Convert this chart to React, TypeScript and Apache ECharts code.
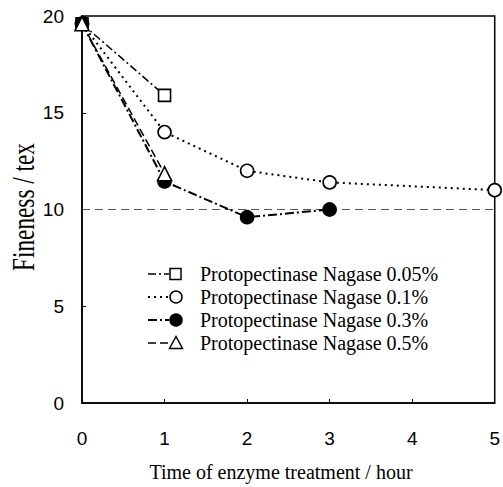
import React, { useEffect, useRef } from "react";
import * as echarts from "echarts";

const seriesNames = [
  "Protopectinase Nagase 0.05%",
  "Protopectinase Nagase 0.1%",
  "Protopectinase Nagase 0.3%",
  "Protopectinase Nagase 0.5%",
];
const s005: [number, number][] = [[0, 19.6], [1, 15.9]];
const s01: [number, number][] = [[0, 19.6], [1, 14.0], [2, 12.0], [3, 11.4], [5, 11.0]];
const s03: [number, number][] = [[0, 19.6], [1, 11.45], [2, 9.6], [3, 10.0]];
const s05: [number, number][] = [[0, 19.6], [1, 11.85]];
const refLevel = 10;
const xTitle = "Time of enzyme treatment / hour";
const yTitle = "Fineness / tex";

const symbols = ["rect", "circle", "circle", "triangle"];
const filled = [false, false, true, false];
const dashes: any[] = [[8, 3, 2, 3], [2, 4], [9, 3, 2, 3], [8, 4]];
const widths = [1.5, 2, 2, 1.5];

export default function App() {
  const ref = useRef<HTMLDivElement>(null);
  useEffect(() => {
    if (!ref.current) return;
    const chart = echarts.init(ref.current, null, { renderer: "svg" });
    const base = (i: number, data: [number, number][], z: number) => ({
      name: seriesNames[i],
      type: "line",
      data,
      symbol: symbols[i],
      symbolSize: symbols[i] === "triangle" ? 14 : symbols[i] === "rect" ? 12 : 13,
      z,
      itemStyle: { color: filled[i] ? "#000" : "#fff", borderColor: "#000", borderWidth: 1.6 },
      lineStyle: { color: "#000", width: widths[i], type: dashes[i] },
    });

    // legend drawn as graphic
    const legendEls: any[] = [];
    seriesNames.forEach((name, i) => {
      const cy = 274 + i * 23;
      legendEls.push({
        type: "line",
        shape: { x1: 148, y1: cy, x2: 169, y2: cy },
        style: { stroke: "#000", lineWidth: widths[i], lineDash: dashes[i] },
      });
      const sym = symbols[i];
      if (sym === "rect") {
        legendEls.push({ type: "rect", shape: { x: 170, y: cy - 5.5, width: 11, height: 11 }, style: { fill: "#fff", stroke: "#000", lineWidth: 1.5 } });
      } else if (sym === "circle") {
        legendEls.push({ type: "circle", shape: { cx: 176, cy, r: 6 }, style: { fill: filled[i] ? "#000" : "#fff", stroke: "#000", lineWidth: 1.5 } });
      } else {
        legendEls.push({ type: "polygon", shape: { points: [[176, cy - 6.5], [169.5, cy + 5.5], [182.5, cy + 5.5]] }, style: { fill: "#fff", stroke: "#000", lineWidth: 1.5 } });
      }
      legendEls.push({
        type: "text",
        x: 200,
        y: cy,
        style: { text: name, font: "20px 'Liberation Serif'", fill: "#000", textVerticalAlign: "middle", verticalAlign: "middle" },
      });
    });

    chart.setOption({
      animation: false,
      grid: { left: 82, right: 6, top: 16, bottom: 84, show: true, borderColor: "#000", borderWidth: 1.5 },
      xAxis: {
        type: "value",
        min: 0,
        max: 5,
        interval: 1,
        axisLine: { lineStyle: { color: "#000", width: 1.5 } },
        axisTick: { inside: true, length: 4, lineStyle: { color: "#000" } },
        axisLabel: { fontFamily: "Liberation Sans", fontSize: 19, color: "#000", margin: 26 },
        splitLine: { show: false },
      },
      yAxis: {
        type: "value",
        min: 0,
        max: 20,
        interval: 5,
        axisLine: { lineStyle: { color: "#000", width: 1.5 } },
        axisTick: { inside: true, length: 4, lineStyle: { color: "#000" } },
        axisLabel: { fontFamily: "Liberation Sans", fontSize: 19, color: "#000", margin: 18 },
        splitLine: { show: false },
      },
      graphic: [
        ...legendEls,
        {
          type: "text",
          x: 281,
          y: 472,
          style: { text: xTitle, font: "20px 'Liberation Serif'", fill: "#000", align: "center", verticalAlign: "middle" },
        },
        {
          type: "text",
          x: 24,
          y: 207,
          rotation: Math.PI / 2,
          scaleX: 0.75,
          style: { text: yTitle, font: "31px 'Liberation Serif'", fill: "#000", align: "center", verticalAlign: "middle" },
        },
      ],
      series: [
        base(0, s005, 3),
        base(1, s01, 4),
        base(2, s03, 5),
        {
          ...base(3, s05, 6),
          markLine: {
            silent: true,
            symbol: "none",
            label: { show: false },
            lineStyle: { color: "#555", width: 1, type: [8, 5] },
            data: [{ yAxis: refLevel }],
          },
        },
      ],
    });
    return () => chart.dispose();
  }, []);
  return <div ref={ref} style={{ width: 503, height: 487, position: "absolute", left: 0, top: 0, background: "#fff" }} />;
}
